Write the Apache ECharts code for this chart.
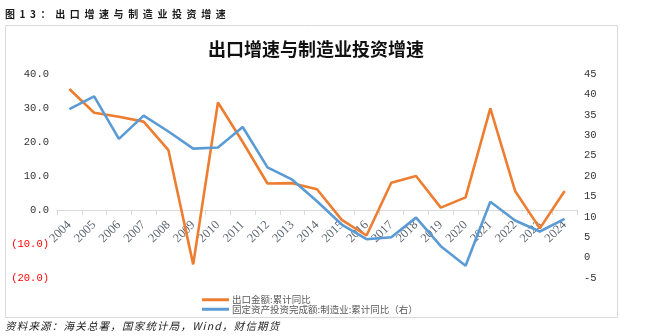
<!DOCTYPE html>
<html>
<head>
<meta charset="utf-8">
<script src="https://cdn.jsdelivr.net/npm/echarts@6/dist/echarts.min.js"></script>
<style>
html,body{margin:0;padding:0;background:#fff;}
#wrap{position:relative;width:649px;height:336px;overflow:hidden;}
#chart{position:absolute;left:0;top:0;width:649px;height:336px;}
#cap{position:absolute;left:5px;top:8px;font-family:"Noto Sans CJK SC",sans-serif;font-weight:bold;font-size:10px;letter-spacing:4.6px;color:#1a1a1a;line-height:12px;white-space:nowrap;}
#src{position:absolute;left:5px;top:319px;font-family:"Noto Sans CJK SC",sans-serif;font-style:italic;font-size:10.5px;letter-spacing:1.2px;color:#1a1a1a;line-height:13px;white-space:nowrap;}
</style>
</head>
<body>
<div id="wrap">
<div id="chart"></div>
<div id="cap">图13：出口增速与制造业投资增速</div>
<div id="src">资料来源：海关总署，国家统计局，Wind，财信期货</div>
</div>
<script>
var years = ['2004','2005','2006','2007','2008','2009','2010','2011','2012','2013','2014','2015','2016','2017','2018','2019','2020','2021','2022','2023','2024'];
var exportGrowth = [35.6, 28.6, 27.4, 26.0, 17.6, -16.0, 31.6, 20.0, 7.8, 7.9, 6.1, -2.9, -7.5, 8.0, 10.0, 0.7, 3.7, 29.9, 5.6, -5.4, 5.6];
var mfgInvestGrowth = [36.4, 39.5, 29.1, 34.8, 30.9, 26.7, 27.0, 32.0, 22.1, 19.1, 13.8, 8.1, 4.5, 5.0, 9.8, 2.8, -2.0, 13.7, 9.1, 6.4, 9.5];
var seriesNames = ['出口金额:累计同比', '固定资产投资完成额:制造业:累计同比（右）'];
var chartTitle = '出口增速与制造业投资增速';

var chart = echarts.init(document.getElementById('chart'), null, {renderer:'canvas'});
var labelFont = 'Liberation Mono';
chart.setOption({
  animation: false,
  backgroundColor: '#ffffff',
  graphic: [{
    type: 'rect',
    shape: {x: 5.5, y: 25.5, width: 612, height: 292},
    style: {fill: 'none', stroke: '#d9d9d9', lineWidth: 1},
    silent: true
  }],
  title: {
    text: chartTitle,
    left: 311, top: 35, textAlign: 'center',
    textStyle: {fontFamily: 'Noto Sans CJK SC', fontSize: 18, fontWeight: 'bold', color: '#111'}
  },
  legend: {
    orient: 'vertical',
    left: 197, top: 290,
    icon: 'rect',
    itemWidth: 27, itemHeight: 3,
    itemGap: 0,
    textStyle: {fontFamily: 'Noto Sans CJK SC', fontSize: 9.5, lineHeight: 9, color: '#595959', padding: [0,0,0,-2]},
    data: seriesNames
  },
  grid: {left: 57, right: 72, top: 74, bottom: 58, containLabel: false},
  xAxis: {
    type: 'category',
    data: years,
    boundaryGap: true,
    axisLine: {onZero: true, onZeroAxisIndex: 0, lineStyle: {color: '#d9d9d9', width: 1}},
    axisTick: {show: true, alignWithLabel: false, length: 5, lineStyle: {color: '#d9d9d9'}},
    axisLabel: {rotate: 45, margin: -55, interval: 0, fontFamily: 'Liberation Serif', fontSize: 12.5, color: '#5a6470'},
    splitLine: {show: false}
  },
  yAxis: [{
    type: 'value', min: -20, max: 40, interval: 10,
    axisLine: {show: false}, axisTick: {show: false}, splitLine: {show: false},
    axisLabel: {
      margin: 8,
      fontFamily: labelFont, fontSize: 10.5, color: '#333',
      formatter: function (v) {
        if (v < 0) return '{neg|(' + Math.abs(v).toFixed(1) + ')}';
        return v.toFixed(1);
      },
      rich: {neg: {color: '#ff0000', fontFamily: labelFont, fontSize: 10.5}}
    }
  }, {
    type: 'value', min: -5, max: 45, interval: 5, position: 'right',
    axisLine: {show: false}, axisTick: {show: false}, splitLine: {show: false},
    axisLabel: {margin: 7, fontFamily: labelFont, fontSize: 10.5, color: '#333'}
  }],
  series: [{
    name: seriesNames[0],
    type: 'line',
    yAxisIndex: 0,
    data: exportGrowth,
    showSymbol: false, symbol: 'none',
    lineStyle: {color: '#ED7D31', width: 2.6},
    itemStyle: {color: '#ED7D31'},
    z: 2
  }, {
    name: seriesNames[1],
    type: 'line',
    yAxisIndex: 1,
    data: mfgInvestGrowth,
    showSymbol: false, symbol: 'none',
    lineStyle: {color: '#5B9BD5', width: 2.6},
    itemStyle: {color: '#5B9BD5'},
    z: 3
  }]
});
</script>
</body>
</html>
